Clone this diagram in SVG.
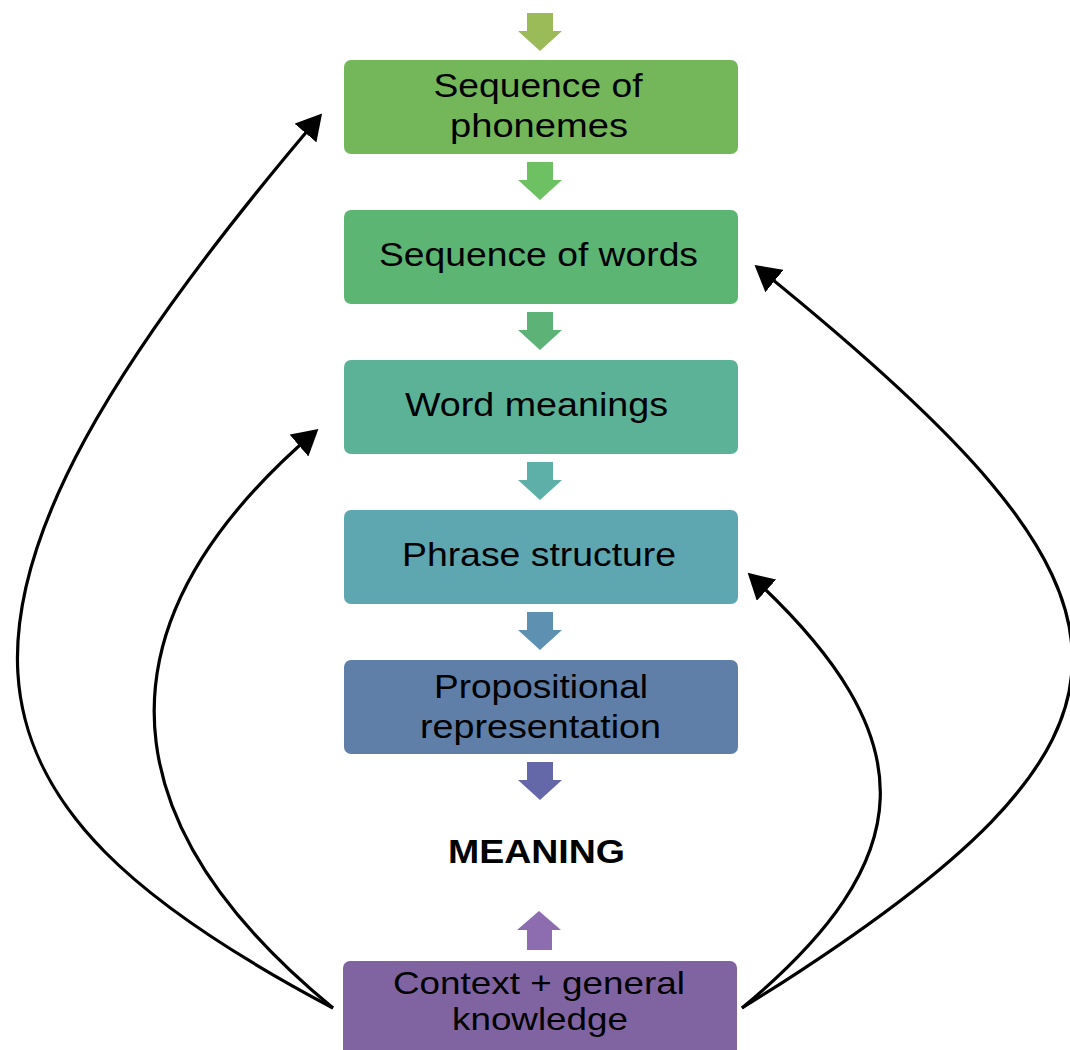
<svg xmlns="http://www.w3.org/2000/svg" width="1070" height="1050" viewBox="0 0 1070 1050">
<style>
.box{stroke:none}
.t{font-family:"Liberation Sans",Arial,sans-serif;font-size:34px;fill:#000;text-anchor:middle}
.s{font-size:32px}
.b{font-weight:bold}
.c{fill:none;stroke:#000;stroke-width:3.2}
</style>
<defs>
<marker id="ah" markerWidth="9" markerHeight="9" refX="7" refY="4.5" orient="auto" markerUnits="strokeWidth">
<path d="M0,0 L8,4.5 L0,9 Z" fill="#000"/>
</marker>
<path id="down" d="M-13,0 H13 V18 H22 L0,38 L-22,18 H-13 Z"/>
</defs>
<rect width="1070" height="1050" fill="#fff"/>
<g id="flow-arrows">
<use href="#down" x="540" y="13" fill="#9BBB59"/>
<use href="#down" x="540" y="162" fill="#6EC163"/>
<use href="#down" x="540" y="312" fill="#5DB377"/>
<use href="#down" x="540" y="462" fill="#5CB0A8"/>
<use href="#down" x="540" y="612" fill="#5E90B2"/>
<use href="#down" x="540" y="762" fill="#6467A8"/>
<path d="M527,950 V930 H517 L539,911 L561,930 H552 V950 Z" fill="#8E6CB0"/>
</g>
<g id="n1"><rect class="box" x="344" y="60" width="394" height="94" rx="7" fill="#73B75A"/>
<text class="t" x="538" y="97" textLength="209" lengthAdjust="spacingAndGlyphs">Sequence of</text>
<text class="t" x="539" y="137" textLength="178" lengthAdjust="spacingAndGlyphs">phonemes</text></g>
<g id="n2"><rect class="box" x="344" y="210" width="394" height="94" rx="7" fill="#5CB572"/>
<text class="t" x="538.5" y="266" textLength="319" lengthAdjust="spacingAndGlyphs">Sequence of words</text></g>
<g id="n3"><rect class="box" x="344" y="360" width="394" height="94" rx="7" fill="#5BB296"/>
<text class="t" x="536.5" y="416" textLength="263" lengthAdjust="spacingAndGlyphs">Word meanings</text></g>
<g id="n4"><rect class="box" x="344" y="510" width="394" height="94" rx="7" fill="#5EA6B0"/>
<text class="t" x="539" y="566" textLength="274" lengthAdjust="spacingAndGlyphs">Phrase structure</text></g>
<g id="n5"><rect class="box" x="344" y="660" width="394" height="94" rx="7" fill="#5F7FA8"/>
<text class="t" x="541" y="698" textLength="214" lengthAdjust="spacingAndGlyphs">Propositional</text>
<text class="t" x="540.5" y="738" textLength="241" lengthAdjust="spacingAndGlyphs">representation</text></g>
<g id="meaning"><text class="t b" x="536.5" y="863" textLength="177" lengthAdjust="spacingAndGlyphs">MEANING</text></g>
<g id="n6"><rect class="box" x="343" y="961" width="394" height="100" rx="7" fill="#8064A2"/>
<text class="t s" x="539" y="994" textLength="292" lengthAdjust="spacingAndGlyphs">Context + general</text>
<text class="t s" x="540" y="1030" textLength="176" lengthAdjust="spacingAndGlyphs">knowledge</text></g>
<g id="connectors">
<path class="c" marker-end="url(#ah)" d="M333,1008 C-60,800 -110,620 320,116"/>
<path class="c" marker-end="url(#ah)" d="M333,1008 C140,850 60,650 316,431"/>
<path class="c" marker-end="url(#ah)" d="M742,1008 C1190,730 1170,600 757,267"/>
<path class="c" marker-end="url(#ah)" d="M742,1008 C920,860 930,740 750,575"/>
</g>
</svg>
